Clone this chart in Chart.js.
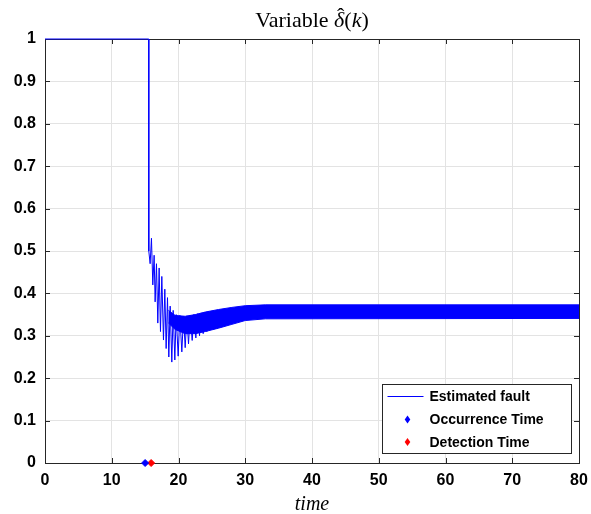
<!DOCTYPE html>
<html>
<head>
<meta charset="utf-8">
<script src="https://cdn.jsdelivr.net/npm/chart.js@4.4.1/dist/chart.umd.min.js"></script>
<style>
  body { margin: 0; background: #fff; }
  canvas { display: block; }
</style>
</head>
<body>
<canvas id="c" width="591" height="514"></canvas>
<script>
// estimated fault: flat part, drop and first oscillations
const stepT = [0, 15.55];
const stepY = [1, 1];
const spikeT = [15.55, 15.75, 15.95, 16.15, 16.35, 16.5, 16.7, 16.9, 17.1, 17.3, 17.5, 17.75, 17.95, 18.15, 18.35, 18.55, 18.75, 19.0, 19.2, 19.45, 19.65, 19.95, 20.2, 20.5, 20.75, 21.0, 21.25, 21.5, 21.75, 22.05, 22.3, 22.6, 22.85, 23.15, 23.4, 23.7, 23.95, 24.25, 24.5];
const spikeY = [0.50, 0.47, 0.53, 0.42, 0.49, 0.38, 0.47, 0.33, 0.46, 0.31, 0.44, 0.29, 0.41, 0.27, 0.39, 0.25, 0.37, 0.238, 0.36, 0.243, 0.35, 0.252, 0.348, 0.262, 0.346, 0.272, 0.347, 0.281, 0.348, 0.289, 0.35, 0.295, 0.352, 0.30, 0.354, 0.305, 0.356, 0.31, 0.358];

// dense oscillation band (upper / lower envelope)
const bandT     = [18.5, 19.5, 21, 22.5, 24, 26, 28, 30, 33, 80];
const bandUpper = [0.36, 0.348, 0.346, 0.350, 0.356, 0.362, 0.367, 0.371, 0.373, 0.373];
const bandLower = [0.33, 0.315, 0.305, 0.305, 0.31, 0.318, 0.327, 0.336, 0.34, 0.341];

const occurrenceT = 15.0;
const detectionT = 15.9;

const legendLabels = ['Estimated fault', 'Occurrence Time', 'Detection Time'];

const pts = (xs, ys) => xs.map((x, i) => ({ x, y: ys[i] }));
const faultPts = pts(stepT, stepY).concat(pts(spikeT, spikeY));

const BLUE = '#0000ff';
const RED = '#ff0000';

// MATLAB-like frame: inside ticks on all four sides + black box
const framePlugin = {
  id: 'frame',
  beforeDatasetsDraw(chart) {
    const { ctx, chartArea: a, scales } = chart;
    const L = 5;
    ctx.save();
    ctx.strokeStyle = '#262626';
    ctx.lineWidth = 1;
    ctx.beginPath();
    scales.x.ticks.forEach(t => {
      const px = Math.round(scales.x.getPixelForValue(t.value)) + 0.5;
      ctx.moveTo(px, a.bottom); ctx.lineTo(px, a.bottom - L);
      ctx.moveTo(px, a.top); ctx.lineTo(px, a.top + L);
    });
    scales.y.ticks.forEach(t => {
      const py = Math.round(scales.y.getPixelForValue(t.value)) + 0.5;
      ctx.moveTo(a.left, py); ctx.lineTo(a.left + L, py);
      ctx.moveTo(a.right, py); ctx.lineTo(a.right - L, py);
    });
    ctx.stroke();
    ctx.strokeRect(Math.round(a.left) + 0.5, Math.round(a.top) + 0.5,
      Math.round(a.right - a.left), Math.round(a.bottom - a.top));
    ctx.restore();
  },
  afterDraw(chart) {
    const { ctx, chartArea: a } = chart;
    ctx.save();
    // title with italic math parts; hat drawn over delta
    const F = '22px "Liberation Serif"', FI = 'italic 22px "Liberation Serif"';
    const parts = [['Variable ', F], ['\u03B4', FI], ['(', F], ['k', FI], [')', F]];
    let w = 0;
    parts.forEach(p => { ctx.font = p[1]; w += ctx.measureText(p[0]).width; });
    let x = (a.left + a.right) / 2 - w / 2;
    const base = 27;
    ctx.fillStyle = '#000';
    ctx.textBaseline = 'alphabetic';
    parts.forEach((p, i) => {
      ctx.font = p[1];
      const pw = ctx.measureText(p[0]).width;
      ctx.fillText(p[0], x, base);
      if (i === 1) {
        ctx.font = F;
        ctx.textAlign = 'center';
        ctx.fillText('\u02C6', x + pw / 2 + 1.5, base - 4);
        ctx.textAlign = 'left';
      }
      x += pw;
    });

    // legend box
    const bw = 189, bh = 69;
    const bx = Math.round(a.right - 8 - bw) + 0.5;
    const by = Math.round(a.bottom - 10 - bh) + 0.5;
    ctx.fillStyle = '#fff';
    ctx.fillRect(bx, by, bw, bh);
    ctx.strokeStyle = '#262626';
    ctx.lineWidth = 1;
    ctx.strokeRect(bx, by, bw, bh);
    ctx.font = 'bold 14px "Liberation Sans"';
    ctx.textBaseline = 'middle';
    const rows = [by + 12, by + 35, by + 57.5];
    ctx.strokeStyle = BLUE;
    ctx.beginPath();
    ctx.moveTo(bx + 5, rows[0]); ctx.lineTo(bx + 41, rows[0]);
    ctx.stroke();
    [BLUE, RED].forEach((c, i) => {
      const cx = bx + 25, cy = rows[i + 1];
      ctx.fillStyle = c;
      ctx.beginPath();
      ctx.moveTo(cx, cy - 4); ctx.lineTo(cx + 2.8, cy); ctx.lineTo(cx, cy + 4); ctx.lineTo(cx - 2.8, cy);
      ctx.closePath(); ctx.fill();
    });
    ctx.fillStyle = '#000';
    legendLabels.forEach((t, i) => ctx.fillText(t, bx + 47, rows[i] + 1));
    ctx.restore();
  }
};

new Chart(document.getElementById('c'), {
  type: 'line',
  data: {
    datasets: [
      { label: legendLabels[0], data: faultPts, borderColor: BLUE, borderWidth: 1, pointRadius: 0, tension: 0, clip: false },
      { label: 'band upper', data: pts(bandT, bandUpper), borderColor: BLUE, backgroundColor: BLUE, borderWidth: 1, pointRadius: 0, fill: '+1' },
      { label: 'band lower', data: pts(bandT, bandLower), borderColor: BLUE, borderWidth: 1, pointRadius: 0, fill: false },
      { label: legendLabels[1], data: [{ x: occurrenceT, y: 0 }], showLine: false, pointStyle: 'rectRot', pointRadius: 3.5, backgroundColor: BLUE, borderColor: BLUE, clip: false },
      { label: legendLabels[2], data: [{ x: detectionT, y: 0 }], showLine: false, pointStyle: 'rectRot', pointRadius: 3.5, backgroundColor: RED, borderColor: RED, clip: false }
    ]
  },
  options: {
    responsive: false,
    animation: false,
    layout: { padding: { top: 39, right: 12, left: 0, bottom: 0 } },
    plugins: { legend: { display: false }, title: { display: false }, tooltip: { enabled: false } },
    scales: {
      x: {
        type: 'linear', min: 0, max: 80,
        ticks: { stepSize: 10, color: '#000', padding: 8, font: { family: 'Liberation Sans', size: 16, weight: 'bold' } },
        grid: { color: '#e3e3e3', drawTicks: false },
        border: { display: false },
        title: { display: true, text: 'time', color: '#000', padding: { top: 0, bottom: -3 }, font: { family: 'Liberation Serif', size: 20, style: 'italic' } },
        afterFit(s) { s.height = 51; s.paddingLeft = 0; s.paddingRight = 0; }
      },
      y: {
        min: 0, max: 1,
        ticks: { stepSize: 0.1, color: '#000', padding: 9, font: { family: 'Liberation Sans', size: 16, weight: 'bold' },
          callback: v => String(Number(v.toFixed(1))) },
        grid: { color: '#e3e3e3', drawTicks: false },
        border: { display: false },
        afterFit(s) { s.width = 45; }
      }
    }
  },
  plugins: [framePlugin]
});
</script>
</body>
</html>
